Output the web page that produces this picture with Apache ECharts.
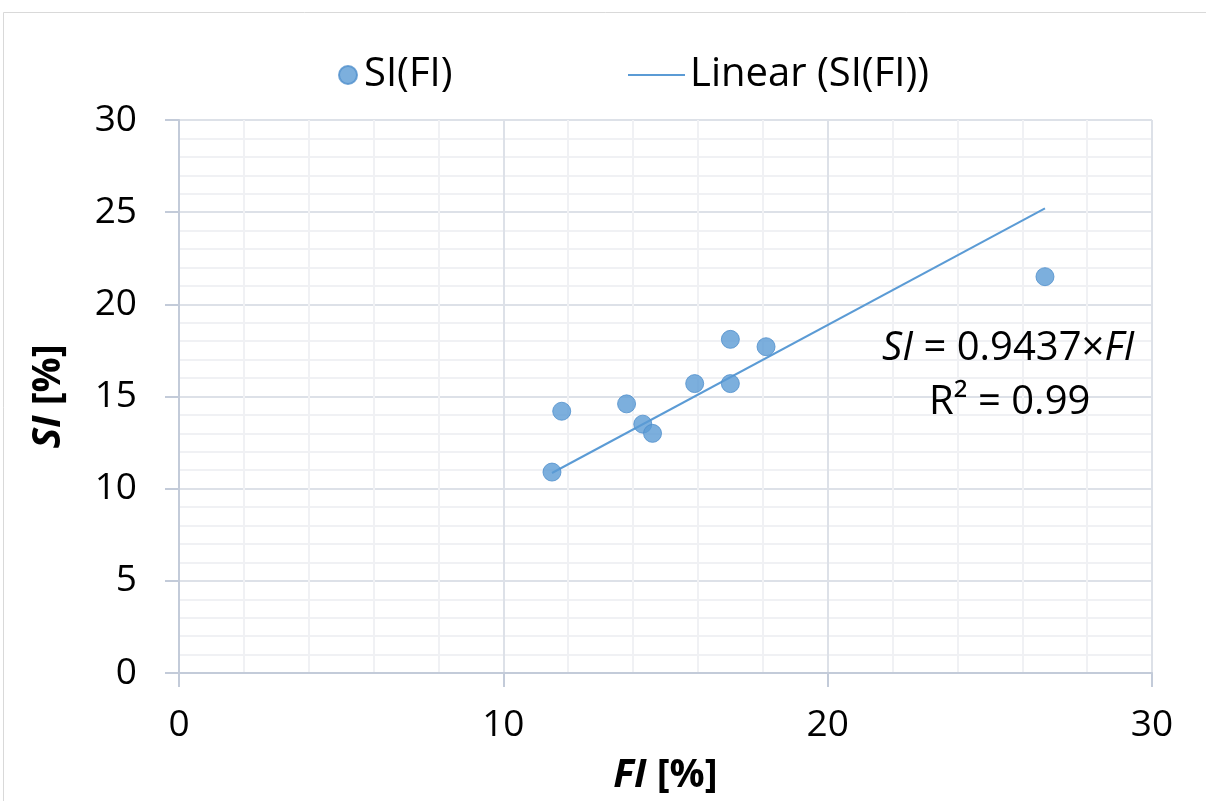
<!DOCTYPE html>
<html>
<head>
<meta charset="utf-8">
<script src="https://cdn.jsdelivr.net/npm/echarts@6/dist/echarts.min.js"></script>
<style>
  html, body { margin: 0; padding: 0; background: #fff; }
  #chart { width: 1206px; height: 801px; }
</style>
</head>
<body>
<div id="chart"></div>
<script>
// measured points
var fiVals = [11.5, 11.8, 13.8, 14.3, 14.6, 15.9, 17.0, 17.0, 18.1, 26.7];
var siVals = [10.9, 14.2, 14.6, 13.5, 13.0, 15.7, 18.1, 15.7, 17.7, 21.5];
// trend line ends
var trendFi = [11.5, 26.7];
var trendSi = [10.85, 25.2];
var axisMin = 0, axisMax = 30;

var pts = fiVals.map(function (v, i) { return [v, siVals[i]]; });
var trendPts = trendFi.map(function (v, i) { return [v, trendSi[i]]; });

var font = 'Open Sans';
var fs = 37;      // tick labels
var fsBig = 40;   // legend + equation
var fsName = 39;  // axis names
var blue = '#5b9bd5';

var chart = echarts.init(document.getElementById('chart'));
chart.setOption({
    backgroundColor: '#fff',
    animation: false,
    textStyle: { fontFamily: font, color: '#000' },
    grid: { left: 179, top: 120, right: 54, bottom: 128 },
    title: [
        {
            text: '{i|SI}{t| = 0.9437×}{i|FI}',
            left: 882, top: 326, padding: 0,
            textStyle: {
                fontWeight: 'normal',
                rich: {
                    i: { fontStyle: 'italic', fontWeight: 'normal', fontSize: fsBig, fontFamily: font, color: '#000', lineHeight: 46 },
                    t: { fontWeight: 'normal', fontSize: fsBig, fontFamily: font, color: '#000', lineHeight: 46 }
                }
            }
        },
        {
            text: 'R² = 0.99',
            left: 929, top: 380, padding: 0,
            textStyle: { fontSize: fsBig, fontWeight: 'normal', fontFamily: font, color: '#000', lineHeight: 46 }
        }
    ],
    legend: [
        {
            data: ['SI(FI)'],
            left: 333, top: 50,
            icon: 'circle', itemWidth: 22, itemHeight: 18,
            textStyle: { fontSize: fsBig, fontFamily: font, color: '#000' }
        },
        {
            data: ['Linear (SI(FI))'],
            left: 623, top: 50,
            icon: 'rect', itemWidth: 57, itemHeight: 2,
            textStyle: { fontSize: fsBig, fontFamily: font, color: '#000' }
        }
    ],
    xAxis: {
        type: 'value', min: axisMin, max: axisMax, interval: 10,
        name: '{b|FI}{n| [%]}',
        nameLocation: 'middle', nameGap: 83,
        nameTextStyle: {
            rich: {
                b: { fontSize: fsName, fontWeight: 'bold', fontStyle: 'italic', fontFamily: font },
                n: { fontSize: fsName, fontWeight: 'bold', fontFamily: font }
            }
        },
        axisLine: { show: true, onZero: false, lineStyle: { color: '#c3cbd9', width: 2 } },
        axisTick: { show: true, length: 14, lineStyle: { color: '#c3cbd9', width: 2 } },
        axisLabel: { fontSize: fs, margin: 34, color: '#000' },
        splitLine: { show: true, lineStyle: { color: '#dde1e8', width: 2 } },
        minorTick: { show: false, splitNumber: 5 },
        minorSplitLine: { show: true, lineStyle: { color: '#f0f1f4', width: 2 } }
    },
    yAxis: {
        type: 'value', min: axisMin, max: axisMax, interval: 5,
        name: '{b|SI}{n| [%]}',
        nameLocation: 'middle', nameGap: 111,
        nameTextStyle: {
            rich: {
                b: { fontSize: fsName, fontWeight: 'bold', fontStyle: 'italic', fontFamily: font },
                n: { fontSize: fsName, fontWeight: 'bold', fontFamily: font }
            }
        },
        axisLine: { show: true, onZero: false, lineStyle: { color: '#c3cbd9', width: 2 } },
        axisTick: { show: true, length: 14, lineStyle: { color: '#c3cbd9', width: 2 } },
        axisLabel: { fontSize: fs, margin: 42, color: '#000' },
        splitLine: { show: true, lineStyle: { color: '#dde1e8', width: 2 } },
        minorTick: { show: false, splitNumber: 5 },
        minorSplitLine: { show: true, lineStyle: { color: '#f0f1f4', width: 2 } }
    },
    series: [
        {
            name: 'SI(FI)',
            type: 'scatter',
            data: pts,
            symbolSize: 18,
            itemStyle: { color: blue, borderColor: '#4f8fcc', borderWidth: 1 },
            z: 3
        },
        {
            name: 'Linear (SI(FI))',
            type: 'line',
            data: trendPts,
            showSymbol: false,
            lineStyle: { color: blue, width: 2 },
            itemStyle: { color: blue },
            z: 2
        }
    ],
    graphic: [
        {
            type: 'rect',
            shape: { x: 3.5, y: 12.5, width: 1220, height: 820 },
            style: { fill: null, stroke: '#d9d9d9', lineWidth: 1 },
            silent: true
        }
    ]
});
</script>
</body>
</html>
